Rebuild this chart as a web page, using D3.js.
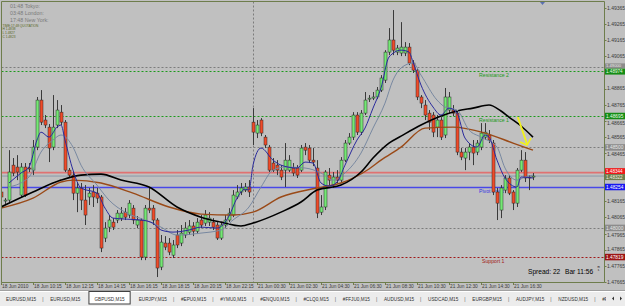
<!DOCTYPE html>
<html><head><meta charset="utf-8">
<script src="https://cdn.jsdelivr.net/npm/d3@7"></script>
<style>
html,body{margin:0;padding:0;background:#c0c0c0;overflow:hidden}
svg{display:block}
text{font-family:"Liberation Sans",Arial,sans-serif}
</style>
</head><body>
<svg id="chart" width="625" height="306"></svg>
<script>
// ---------- DATA (GBPUSD M15, 18 Jun 2010 08:15 -> 21 Jun 2010 17:45) ----------
const open = [1.48223,1.48167,1.48173,1.48390,1.48378,1.48204,1.48378,1.48372,1.48359,1.48502,
1.48794,1.48670,1.48626,1.48502,1.48639,1.48719,1.48657,1.48359,1.48328,1.48216,
1.48248,1.48173,1.48192,1.48223,1.48216,1.48192,1.47937,1.48005,1.48036,1.48049,
1.48061,1.48098,1.48080,1.48123,1.48018,1.48049,1.47819,1.48123,1.48123,1.48049,
1.47757,1.47906,1.47906,1.47831,1.47956,1.47906,1.47956,1.47974,1.48012,1.47980,
1.48049,1.48030,1.48036,1.48036,1.48018,1.47937,1.48018,1.48049,1.48080,1.48192,
1.48223,1.48235,1.48254,1.48657,1.48589,1.48670,1.48564,1.48502,1.48403,1.48390,
1.48359,1.48359,1.48359,1.48372,1.48372,1.48359,1.48502,1.48496,1.48421,1.48372,
1.48098,1.48130,1.48328,1.48266,1.48316,1.48297,1.48421,1.48527,1.48564,1.48701,
1.48595,1.48713,1.48800,1.48806,1.48813,1.48856,1.48918,1.49092,1.49167,1.49092,
1.49086,1.49086,1.49123,1.49024,1.48980,1.48813,1.48763,1.48713,1.48701,1.48626,
1.48670,1.48577,1.48732,1.48732,1.48713,1.48471,1.48434,1.48471,1.48502,1.48471,
1.48502,1.48564,1.48577,1.48527,1.48223,1.48111,1.48235,1.48310,1.48223,1.48154,
1.48359,1.48421,1.48316,1.48316];
const high = [1.48248,1.48185,1.48483,1.48434,1.48452,1.48403,1.48403,1.48403,1.48546,1.48813,
1.48856,1.48701,1.48645,1.48825,1.48794,1.48763,1.48670,1.48372,1.48347,1.48285,
1.48279,1.48266,1.48248,1.48266,1.48248,1.48204,1.48036,1.48080,1.48061,1.48111,
1.48130,1.48123,1.48173,1.48142,1.48074,1.48061,1.48142,1.48248,1.48142,1.48061,
1.47956,1.47949,1.47937,1.47925,1.47987,1.48018,1.48036,1.48049,1.48036,1.48061,
1.48080,1.48111,1.48098,1.48061,1.48036,1.48036,1.48080,1.48123,1.48235,1.48266,
1.48279,1.48279,1.48297,1.48744,1.48670,1.48682,1.48577,1.48515,1.48434,1.48421,
1.48390,1.48527,1.48452,1.48403,1.48390,1.48515,1.48527,1.48515,1.48496,1.48421,
1.48204,1.48359,1.48372,1.48347,1.48359,1.48440,1.48546,1.48589,1.48719,1.48719,
1.48732,1.48844,1.48825,1.48844,1.48875,1.48949,1.49104,1.49241,1.49353,1.49136,
1.49278,1.49154,1.49148,1.49042,1.48993,1.48825,1.48794,1.48732,1.48719,1.48701,
1.48688,1.48869,1.48844,1.48763,1.48732,1.48496,1.48496,1.48527,1.48546,1.48546,
1.48651,1.48651,1.48608,1.48546,1.48248,1.48266,1.48328,1.48328,1.48235,1.48372,
1.48483,1.48471,1.48328,1.48341];
const low = [1.48173,1.48148,1.48154,1.48322,1.48297,1.48192,1.48192,1.48347,1.48328,1.48483,
1.48639,1.48620,1.48409,1.48483,1.48620,1.48639,1.48347,1.48310,1.48173,1.48098,
1.48111,1.48018,1.48142,1.48130,1.48154,1.47850,1.47912,1.47974,1.47987,1.48030,
1.48043,1.48049,1.48061,1.48024,1.47999,1.47800,1.47800,1.48092,1.48018,1.47695,
1.47738,1.47862,1.47831,1.47813,1.47875,1.47887,1.47937,1.47956,1.47949,1.47962,
1.47999,1.48012,1.48012,1.47987,1.47925,1.47925,1.47999,1.48036,1.48067,1.48179,
1.48204,1.48223,1.48192,1.48515,1.48558,1.48570,1.48496,1.48347,1.48347,1.48328,
1.48297,1.48254,1.48347,1.48322,1.48310,1.48347,1.48452,1.48403,1.48384,1.48061,
1.48080,1.48111,1.48266,1.48248,1.48279,1.48285,1.48409,1.48515,1.48546,1.48577,
1.48577,1.48701,1.48782,1.48794,1.48800,1.48844,1.48900,1.49073,1.49073,1.49073,
1.49067,1.49067,1.49011,1.48962,1.48794,1.48744,1.48670,1.48608,1.48564,1.48564,
1.48546,1.48558,1.48713,1.48695,1.48452,1.48421,1.48359,1.48421,1.48390,1.48452,
1.48483,1.48546,1.48527,1.48204,1.48049,1.48061,1.48216,1.48204,1.48111,1.48130,
1.48347,1.48285,1.48235,1.48297];
const close = [1.48192,1.48173,1.48347,1.48341,1.48347,1.48378,1.48204,1.48366,1.48502,1.48794,
1.48657,1.48639,1.48496,1.48626,1.48732,1.48657,1.48359,1.48328,1.48216,1.48248,
1.48173,1.48080,1.48216,1.48192,1.48185,1.47875,1.47999,1.48049,1.48005,1.48092,
1.48092,1.48067,1.48154,1.48049,1.48049,1.47819,1.48123,1.48111,1.48049,1.47751,
1.47912,1.47881,1.47850,1.47894,1.47894,1.47968,1.47999,1.48012,1.47980,1.48036,
1.48018,1.48080,1.48061,1.48005,1.47937,1.48018,1.48049,1.48092,1.48204,1.48223,
1.48248,1.48254,1.48223,1.48595,1.48639,1.48589,1.48515,1.48359,1.48359,1.48359,
1.48316,1.48421,1.48421,1.48341,1.48328,1.48496,1.48483,1.48421,1.48409,1.48092,
1.48130,1.48347,1.48297,1.48316,1.48297,1.48421,1.48527,1.48564,1.48701,1.48595,
1.48713,1.48794,1.48806,1.48813,1.48856,1.48931,1.49092,1.49167,1.49104,1.49117,
1.49123,1.49123,1.49024,1.48980,1.48813,1.48775,1.48701,1.48657,1.48595,1.48670,
1.48564,1.48813,1.48813,1.48713,1.48471,1.48440,1.48471,1.48502,1.48465,1.48527,
1.48589,1.48595,1.48546,1.48223,1.48154,1.48248,1.48310,1.48216,1.48154,1.48359,
1.48421,1.48310,1.48310,1.48322];

// moving averages: [bar index, price]
const maFast = [[2,1.48279],[5,1.48341],[7,1.48378],[9,1.48546],[10,1.48595],[12,1.48564],[14,1.48626],[15,1.48639],[16,1.48546],[18,1.48359],[20,1.48248],[24,1.48216],[26,1.48123],[28,1.48061],[31,1.48055],[35,1.48049],[38,1.48030],[40,1.47987],[43,1.47974],[47,1.47987],[50,1.48005],[54,1.47999],[57,1.48074],[59,1.48185],[61,1.48241],[62,1.48235],[63,1.48390],[65,1.48496],[68,1.48421],[70,1.48390],[74,1.48372],[76,1.48409],[78,1.48403],[80,1.48279],[82,1.48260],[84,1.48285],[86,1.48390],[89,1.48546],[91,1.48620],[93,1.48744],[95,1.48869],[97,1.49061],[100,1.49104],[102,1.49092],[103,1.49030],[105,1.48887],[108,1.48751],[110,1.48701],[112,1.48744],[114,1.48713],[116,1.48558],[119,1.48502],[121,1.48577],[122,1.48564],[124,1.48421],[126,1.48310],[129,1.48254],[130,1.48316],[133,1.48310]];
const maMid = [[2,1.48254],[7,1.48316],[10,1.48471],[13,1.48546],[15,1.48577],[18,1.48502],[20,1.48390],[24,1.48266],[27,1.48173],[31,1.48098],[36,1.48049],[40,1.48005],[44,1.47956],[50,1.47968],[55,1.47987],[58,1.48049],[62,1.48130],[65,1.48254],[68,1.48359],[71,1.48378],[76,1.48372],[80,1.48341],[83,1.48297],[86,1.48341],[90,1.48465],[93,1.48620],[96,1.48775],[98,1.48918],[100,1.48993],[103,1.49024],[105,1.48949],[109,1.48794],[111,1.48751],[114,1.48732],[117,1.48608],[120,1.48564],[124,1.48502],[126,1.48372],[129,1.48297],[131,1.48316],[133,1.48328]];
const maSlow = [[0,1.48123],[8,1.48185],[15,1.48285],[18,1.48297],[25,1.48279],[33,1.48216],[42,1.48130],[50,1.48086],[58,1.48080],[63,1.48098],[70,1.48192],[79,1.48248],[85,1.48279],[92,1.48366],[95,1.48421],[100,1.48502],[106,1.48620],[113,1.48626],[121,1.48589],[128,1.48527],[133,1.48483]];
const maLong = [[0,1.48130],[8,1.48223],[15,1.48297],[20,1.48328],[25,1.48334],[30,1.48297],[37,1.48254],[44,1.48130],[50,1.48067],[55,1.48036],[60,1.48012],[63,1.48030],[70,1.48098],[75,1.48161],[79,1.48235],[85,1.48266],[90,1.48347],[93,1.48434],[97,1.48527],[100,1.48570],[105,1.48639],[110,1.48695],[114,1.48726],[118,1.48744],[122,1.48763],[125,1.48726],[127,1.48688],[130,1.48633],[133,1.48564]];

const timeLabels = [[0,"18 Jun 2010"],[8,"18 Jun 10:15"],[16,"18 Jun 12:15"],[24,"18 Jun 14:15"],[32,"18 Jun 16:15"],[40,"18 Jun 18:15"],[48,"18 Jun 20:15"],[56,"18 Jun 22:15"],[64,"21 Jun 00:30"],[72,"21 Jun 02:30"],[80,"21 Jun 04:30"],[88,"21 Jun 06:30"],[96,"21 Jun 08:30"],[104,"21 Jun 10:30"],[112,"21 Jun 12:30"],[120,"21 Jun 14:30"],[128,"21 Jun 16:30"]];
const priceTicks = [1.49365,1.49265,1.49165,1.49065,1.48965,1.48865,1.48765,1.48665,1.48565,1.48465,1.48365,1.48265,1.48165,1.48065,1.47965,1.47865,1.47765,1.47665];
const roundLevels = [1.49000,1.48500,1.48000];
const pivotLevels = [
  {name:"Resistance 2", price:1.48974, kind:"res"},
  {name:"Resistance 1", price:1.48695, kind:"res"},
  {name:"Pivot Point",  price:1.48254, kind:"piv"},
  {name:"Support 1",    price:1.47819, kind:"sup"}];
const bid = 1.48322, ask = 1.48344;
const daySeparatorBar = 63;
const arrowFrom = [129.2, 1.48688], arrowTo = [131.5, 1.48521];
const sessionClock = ["01:48 Tokyo:","03:48 London:","17:48 New York:"];
const infoLines = ["TIME:17:48  QUOTATION","H 1.4838","L 1.4827","C 1.4823"];
const spreadText = "Spread: 22", barText = "Bar 11:56";
const tabs = ["EURUSD,M15","EURUSD,M15","GBPUSD,M15","EURJPY,M15","#EPU0,M15","#YMU0,M15","#ENQU0,M15","#CLQ0,M15","#FFJU0,M15","AUDUSD,M15","USDCAD,M15","EURGBP,M15","AUDJPY,M15","NZDUSD,M15","#F"];
const activeTab = 2;

// ---------- DRAW ----------
const svg = d3.select("#chart");
const W = 625, H = 306;
const L = 1.5, R = 604.5, T = 1.5, B = 282.5;
const x = d3.scaleLinear().domain([0, 133]).range([1, 533]);
const y = d3.scaleLinear().domain([1.47658, 1.49403]).range([283, 2]);

svg.append("rect").attr("width", W).attr("height", H).attr("fill", "#c0c0c0");

const plot = svg.append("g");
plot.append("clipPath").attr("id","clip").append("rect").attr("x",L).attr("y",T).attr("width",R-L).attr("height",B-T);
const g = plot.append("g").attr("clip-path","url(#clip)");

// round-number grid
g.selectAll(".rl").data(roundLevels).join("line")
  .attr("x1", L).attr("x2", R).attr("y1", d=>Math.round(y(d))+0.5).attr("y2", d=>Math.round(y(d))+0.5)
  .attr("stroke", "#7c7c7c").attr("stroke-dasharray", "2,2").attr("stroke-width", 1);
// day separator
g.append("line").attr("x1", Math.round(x(daySeparatorBar))+0.5).attr("x2", Math.round(x(daySeparatorBar))+0.5)
  .attr("y1", T).attr("y2", B).attr("stroke", "#7c7c7c").attr("stroke-dasharray", "2,2");

// pivot levels
const pivColor = {res:"#1c9a1c", piv:"#3030e0", sup:"#a01818"};
pivotLevels.forEach(p => {
  const yy = Math.round(y(p.price)) + 0.5;
  if (p.kind === "piv") {
    g.append("line").attr("x1", L).attr("x2", R).attr("y1", yy).attr("y2", yy)
      .attr("stroke", "#4848e8").attr("stroke-width", 1.6);
  } else {
    g.append("line").attr("x1", L).attr("x2", R).attr("y1", yy).attr("y2", yy)
      .attr("stroke", pivColor[p.kind]).attr("stroke-dasharray", "2,2").attr("stroke-width", 1);
  }
  g.append("text").attr("x", p.kind==="sup"?482:479).attr("y", yy + 5.5)
    .attr("font-size", 5.2).attr("fill", pivColor[p.kind]).text(p.name);
});
// ask / bid lines
g.append("line").attr("x1", L).attr("x2", R).attr("y1", y(ask)).attr("y2", y(ask)).attr("stroke", "#e07272").attr("stroke-width", 1.8);
g.append("line").attr("x1", L).attr("x2", R).attr("y1", y(bid)).attr("y2", y(bid)).attr("stroke", "#8a98a8").attr("stroke-width", 1);

// candles
const bars = d3.range(open.length).map(i => ({i, o:open[i], h:high[i], l:low[i], c:close[i]}));
const cg = g.append("g");
cg.selectAll(".wick").data(bars).join("line")
  .attr("x1", d=>x(d.i)+0.5).attr("x2", d=>x(d.i)+0.5)
  .attr("y1", d=>y(d.h)).attr("y2", d=>y(d.l))
  .attr("stroke", "#3a3a3a").attr("stroke-width", 1);
cg.selectAll(".body").data(bars).join("rect")
  .attr("x", d=>x(d.i)-1)
  .attr("width", 3)
  .attr("y", d=>y(Math.max(d.o,d.c)))
  .attr("height", d=>Math.max(1, Math.abs(y(d.o)-y(d.c))))
  .attr("fill", d=> d.c>=d.o ? "#74e874" : "#f04a28")
  .attr("stroke", "#2c2c2c").attr("stroke-width", 0.5);

// moving averages
const line = d3.line().x(d=>x(d[0])).y(d=>y(d[1])).curve(d3.curveMonotoneX);
g.append("path").attr("d", line(maSlow)).attr("fill","none").attr("stroke","#9a4a18").attr("stroke-width",1.4);
g.append("path").attr("d", line(maLong)).attr("fill","none").attr("stroke","#000").attr("stroke-width",1.6);
g.append("path").attr("d", line(maMid)).attr("fill","none").attr("stroke","#7888a0").attr("stroke-width",1);
g.append("path").attr("d", line(maFast)).attr("fill","none").attr("stroke","#2a2a9c").attr("stroke-width",1);

// yellow arrow
const ax1 = x(arrowFrom[0]), ay1 = y(arrowFrom[1]), ax2 = x(arrowTo[0]), ay2 = y(arrowTo[1]);
g.append("line").attr("x1",ax1).attr("y1",ay1).attr("x2",ax2).attr("y2",ay2).attr("stroke","#f2f21a").attr("stroke-width",1.8);
g.append("path").attr("d",`M${ax2-7},${ay2-2} L${ax2},${ay2+1} L${ax2+4},${ay2-6}`).attr("fill","none").attr("stroke","#f2f21a").attr("stroke-width",1.6);

// top-left info (clock block, then quote block beneath it)
sessionClock.forEach((t,k)=> svg.append("text").attr("x",10).attr("y",7.5+k*7).attr("font-size",5.3).attr("fill","#7a7a7a").text(t));
infoLines.forEach((t,k)=> svg.append("text").attr("x",2.5).attr("y",26.5+k*3.8).attr("font-size",3.2).attr("fill","#56661c").text(t));

// spread text
svg.append("text").attr("x",528).attr("y",274).attr("font-size",6.6).attr("fill","#000").text(spreadText);
svg.append("text").attr("x",565).attr("y",274).attr("font-size",6.6).attr("fill","#000").text(barText);
svg.append("text").attr("x",597.5).attr("y",268).attr("font-size",2.8).attr("fill","#000").text("m");
svg.append("text").attr("x",597.8).attr("y",271.4).attr("font-size",2.8).attr("fill","#000").text("s");

// chart-shift marker
svg.append("path").attr("d","M540,2 L545,2 L542.5,5 Z").attr("fill","#5a70b0");

// frame
svg.append("line").attr("x1",L).attr("x2",R).attr("y1",T).attr("y2",T).attr("stroke","#6e7d4c");
svg.append("line").attr("x1",L).attr("x2",L).attr("y1",T).attr("y2",B).attr("stroke","#6e7d4c");
svg.append("line").attr("x1",R).attr("x2",R).attr("y1",T).attr("y2",B).attr("stroke","#6e7d4c");

// price boxes (right-hand markers), with their drawn centre and height
const boxes = [
  {p:1.49000, bg:"#8c8c8c", fg:"#e8e8e8", dy:-1, h:5, fs:4.2},
  {p:1.48974, bg:"#148c14", fg:"#e8ffe8", dy:0.5, h:6, fs:4.6},
  {p:1.48695, bg:"#148c14", fg:"#e8ffe8", dy:0, h:6.5, fs:4.8},
  {p:1.48500, bg:"#8c8c8c", fg:"#e8e8e8", dy:0, h:6.5, fs:4.8},
  {p:ask, bg:"#f01818", fg:"#ffffff", dy:-1.4, h:6, fs:4.6},
  {p:bid, bg:"#6e7d4c", fg:"#eef0e0", dy:1, h:6, fs:4.6},
  {p:1.48254, bg:"#1818f0", fg:"#ffffff", dy:0, h:6.5, fs:4.8},
  {p:1.48000, bg:"#8c8c8c", fg:"#e8e8e8", dy:0, h:6.5, fs:4.8},
  {p:1.47819, bg:"#9c1414", fg:"#ffffff", dy:0, h:6.5, fs:4.8}];
boxes.forEach(b => b.cy = y(b.p) + b.dy);

// price axis labels (hidden where a marker covers them, nudged where one is close)
const pa = svg.append("g");
pa.selectAll(".pt").data(priceTicks).join("line")
  .attr("x1",R).attr("x2",R+2).attr("y1",d=>Math.round(y(d))+0.5).attr("y2",d=>Math.round(y(d))+0.5).attr("stroke","#6e7d4c");
priceTicks.forEach(p => {
  let ty = y(p);
  let hidden = false;
  boxes.forEach(b => {
    const d = ty - b.cy;
    if (Math.abs(d) < 3) hidden = true;
    else if (Math.abs(d) < 7) ty = b.cy + Math.sign(d) * 7;
  });
  if (!hidden) pa.append("text").attr("x",607).attr("y",ty+1.8).attr("font-size",5).attr("fill","#3a3a3a").text(p.toFixed(5));
});
boxes.forEach(b=>{
  pa.append("rect").attr("x",R+0.5).attr("y",b.cy-b.h/2).attr("width",W-R).attr("height",b.h).attr("fill",b.bg);
  pa.append("text").attr("x",606).attr("y",b.cy+b.fs*0.36).attr("font-size",b.fs).attr("fill",b.fg).text(b.p.toFixed(5));
});

// time axis
const ta = svg.append("g");
svg.append("line").attr("x1",L).attr("x2",R).attr("y1",B).attr("y2",B).attr("stroke","#6e7d4c");
timeLabels.forEach(([i,t])=>{
  const xx = Math.round(x(i))+0.5;
  ta.append("line").attr("x1",xx).attr("x2",xx).attr("y1",B).attr("y2",B+2.5).attr("stroke","#6e7d4c");
  ta.append("text").attr("x",xx+0.5).attr("y",288).attr("font-size",4.8).attr("fill","#3a3a3a").text(t);
});

// tab bar
const tb = svg.append("g");
tb.append("rect").attr("x",0).attr("y",290).attr("width",W).attr("height",16).attr("fill","#ececec");
tb.append("line").attr("x1",0).attr("x2",W).attr("y1",290.5).attr("y2",290.5).attr("stroke","#a0a0a0");
tb.append("line").attr("x1",0).attr("x2",W).attr("y1",291.5).attr("y2",291.5).attr("stroke","#ffffff");
let tx = 6;
tabs.forEach((t,k)=>{
  const el = tb.append("text").attr("x",tx).attr("y",300.5).attr("font-size",4.7).attr("fill","#303030").text(t);
  const w = el.node().getComputedTextLength();
  if (k === activeTab) {
    tb.insert("rect", "text").attr("x",tx-5.5).attr("y",291.5).attr("width",w+11).attr("height",12.5)
      .attr("fill","#ffffff").attr("stroke","#404040").attr("stroke-width",1);
  }
  tx += w + 7;
  if (k < tabs.length-1 && k !== activeTab && k+1 !== activeTab) {
    tb.append("text").attr("x",tx-1).attr("y",300.5).attr("font-size",5).attr("fill","#606060").text("|");
  }
  tx += 7;
});
tb.append("rect").attr("x",606).attr("y",292).attr("width",19).attr("height",13).attr("fill","#ececec");
tb.append("path").attr("d","M612,298.5 L614,296.5 L614,300.5 Z").attr("fill","#303030");
tb.append("path").attr("d","M622,298.5 L620,296.5 L620,300.5 Z").attr("fill","#303030");
</script>
</body></html>
